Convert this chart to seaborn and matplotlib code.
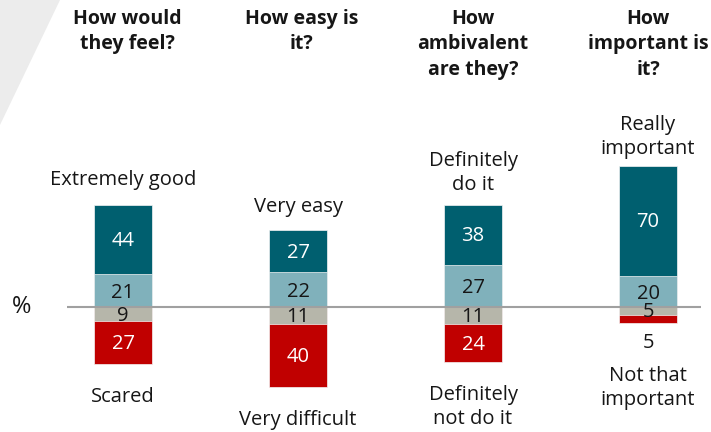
import matplotlib
matplotlib.use("Agg")
import matplotlib.pyplot as plt
import seaborn as sns
import pandas as pd
from matplotlib.patches import Polygon

# ---- data ----
titles = ["How would\nthey feel?", "How easy is\nit?", "How\nambivalent\nare they?", "How\nimportant is\nit?"]
top_labels = ["Extremely good", "Very easy", "Definitely\ndo it", "Really\nimportant"]
bottom_labels = ["Scared", "Very difficult", "Definitely\nnot do it", "Not that\nimportant"]
strong_pos = [44, 27, 38, 70]
mild_pos = [21, 22, 27, 20]
neutral = [9, 11, 11, 5]
strong_neg = [27, 40, 24, 5]

# ---- style ----
c_dark = "#005f6f"
c_light = "#80b1bb"
c_gray = "#b6b6aa"
c_red = "#c00000"
txt = "#161616"
title_dx = [0.025, 0.02, 0.0, 0.0]
top_offsets = [15, 13, 10, 7]

sns.set_theme(style="white")
plt.rcParams["font.family"] = ["Open Sans", "DejaVu Sans"]
FS = 14.5
LS = 1.27

cats = [f"c{i}" for i in range(4)]
df = pd.DataFrame({
    "cat": cats,
    "pos_total": [a + b for a, b in zip(strong_pos, mild_pos)],
    "pos_mild": mild_pos,
    "neg_total": [-(a + b) for a, b in zip(neutral, strong_neg)],
    "neg_neutral": [-a for a in neutral],
})

fig = plt.figure(figsize=(7.11, 4.32), dpi=100)
fig.patch.set_facecolor("white")

# decorative background shape
fig.add_artist(Polygon([(0, 1), (60 / 711, 1), (0, 1 - 125 / 432)], closed=True,
                       transform=fig.transFigure, facecolor="#ececec", edgecolor="none", zorder=0))

ax = fig.add_axes([0, 0, 1, 1])
ax.set_facecolor("none")
W = 0.331
kw = dict(edgecolor="#f4f4f4", linewidth=0.5, width=W, saturation=1, ax=ax, order=cats)
sns.barplot(data=df, x="cat", y="pos_total", color=c_dark, **kw)
sns.barplot(data=df, x="cat", y="pos_mild", color=c_light, **kw)
sns.barplot(data=df, x="cat", y="neg_total", color=c_red, **kw)
sns.barplot(data=df, x="cat", y="neg_neutral", color=c_gray, **kw)

ax.set_xlim(-0.703, 3.36)
ax.set_ylim(-79.6, 195.5)
ax.axis("off")

# baseline
ax.plot([-0.32, 3.3], [0, 0], color="#a0a0a0", lw=1.5, zorder=5, solid_capstyle="butt")
ax.text(-0.58, 0, "%", ha="center", va="center", fontsize=17, color=txt)

for i in range(4):
    sp, mp, ne, sn = strong_pos[i], mild_pos[i], neutral[i], strong_neg[i]
    ax.text(i, mp + sp / 2 - 1, str(sp), ha="center", va="center", color="white", fontsize=FS, zorder=6)
    ax.text(i, mp / 2 - 1.5, str(mp), ha="center", va="center", color=txt, fontsize=FS, zorder=6)
    ax.text(i, -ne / 2 - 1, str(ne), ha="center", va="center", color=txt, fontsize=FS, zorder=6)
    bottom = -(ne + sn)
    if sn >= 10:
        ax.text(i, -ne - sn / 2 - 1, str(sn), ha="center", va="center", color="white", fontsize=FS, zorder=6)
        extra = 0
    else:
        ax.annotate(str(sn), (i, bottom), xytext=(0, -10), textcoords="offset pixels",
                    ha="center", va="top", color=txt, fontsize=FS)
        extra = 20
    ax.annotate(top_labels[i], (i, mp + sp), xytext=(0, top_offsets[i]), textcoords="offset pixels",
                ha="center", va="bottom", color=txt, fontsize=FS, linespacing=LS)
    ax.annotate(bottom_labels[i], (i, bottom), xytext=(0, -23 - extra), textcoords="offset pixels",
                ha="center", va="top", color=txt, fontsize=FS, linespacing=LS)
    ax.text(i + title_dx[i], 1 - 9 / 432, titles[i], transform=ax.get_xaxis_transform(),
            ha="center", va="top", color=txt, fontsize=14, fontweight="bold", linespacing=1.36)

fig.savefig("out.png", dpi=100, facecolor="white")
